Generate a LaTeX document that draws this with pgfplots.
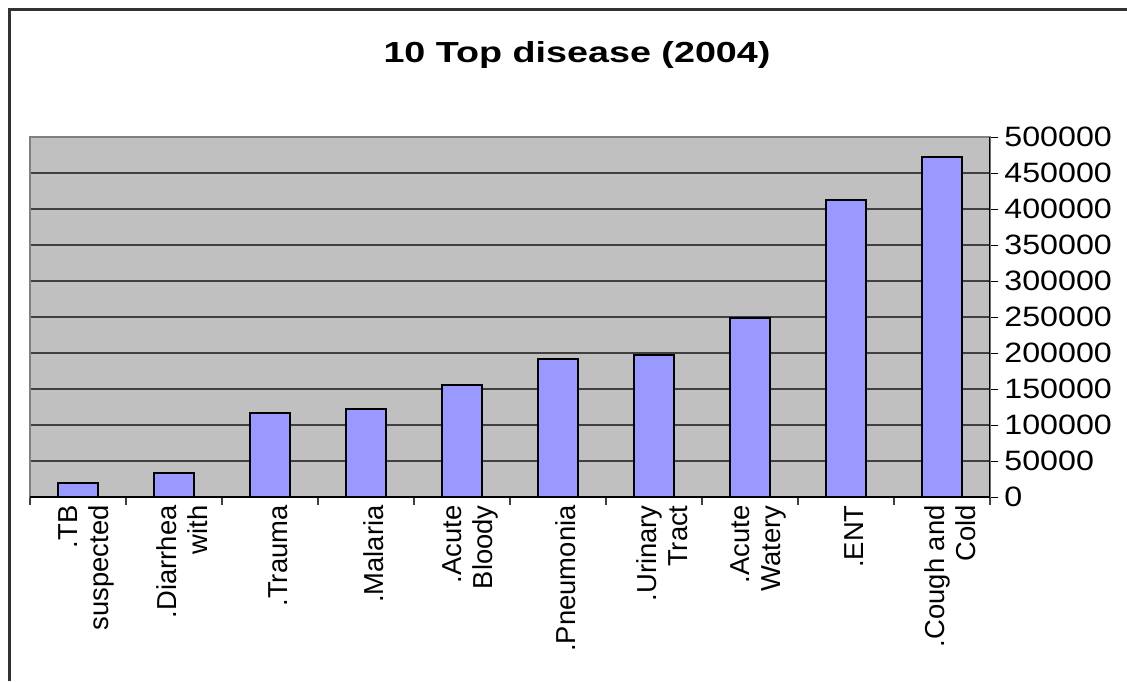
\documentclass[border=0pt]{standalone}
\usepackage{fontspec}
\setmainfont{Liberation Sans}
\newfontfamily\tickfont[FakeStretch=1.15]{Liberation Sans}
\newfontfamily\titlefont[FakeStretch=1.3]{Liberation Sans Bold}
\usepackage{pgfplots}
\pgfplotsset{compat=1.18}
\definecolor{plotbg}{HTML}{C0C0C0}
\definecolor{barfill}{HTML}{9999FF}
\definecolor{gridc}{HTML}{404040}
\begin{document}
\begin{tikzpicture}[x=0.5pt,y=0.5pt]
\useasboundingbox (0,0) rectangle (1127,681);
\draw[line width=1.2pt, color=black!80] (9.5,0) -- (9.5,671.5) -- (1127,671.5);
\node[font=\titlefont\fontsize{14.5}{17}\selectfont] at (577,626) {10 Top disease (2004)};
\begin{axis}[
  at={(15pt,92pt)}, anchor=south west,
  width=480pt, height=180pt, scale only axis,
  xmin=-0.5, xmax=9.5, ymin=0, ymax=500000,
  axis background/.style={fill=plotbg},
  axis line style={draw=gray, line width=0.6pt},
  xtick={0,...,9},
  xticklabels={{.TB\\suspected},{.Diarrhea\\with},{.Trauma},{.Malaria},{.Acute\\Bloody},{.Pneumonia},{.Urinary\\Tract},{.Acute\\Watery},{.ENT},{.Cough and\\Cold}},
  major x tick style={draw=none},
  minor xtick={-0.5,0.5,...,9.5},
  minor x tick style={draw=gridc, line width=0.6pt},
  minor tick length=4pt,
  major tick length=4pt,
  tick align=outside,
  xtick pos=left,
  ytick pos=right,
  yticklabel pos=right,
  ytick={0,50000,...,500000},
  scaled y ticks=false,
  ymajorgrids,
  grid style={draw=gridc, line width=0.65pt},
  major y tick style={draw=black, line width=0.5pt},
  yticklabel style={font=\tickfont\fontsize{14}{16}\selectfont, anchor=west, inner sep=0pt, xshift=3pt,
    /pgf/number format/fixed, /pgf/number format/1000 sep={}},
  /pgf/number format/assume math mode=true,
  xticklabel style={font=\fontsize{13.7}{15.5}\selectfont, rotate=90, anchor=east, align=right, inner sep=0pt, yshift=-4pt},
]
\addplot[ybar, bar width=20pt, fill=barfill, draw=black, line width=1pt] coordinates {
  (0,19000) (1,33000) (2,116000) (3,122000) (4,155000)
  (5,191000) (6,197000) (7,249000) (8,413000) (9,472000)
};
\draw[black, line width=0.6pt] (rel axis cs:0,0) -- (rel axis cs:1,0) -- (rel axis cs:1,1);
\end{axis}
\end{tikzpicture}
\end{document}
